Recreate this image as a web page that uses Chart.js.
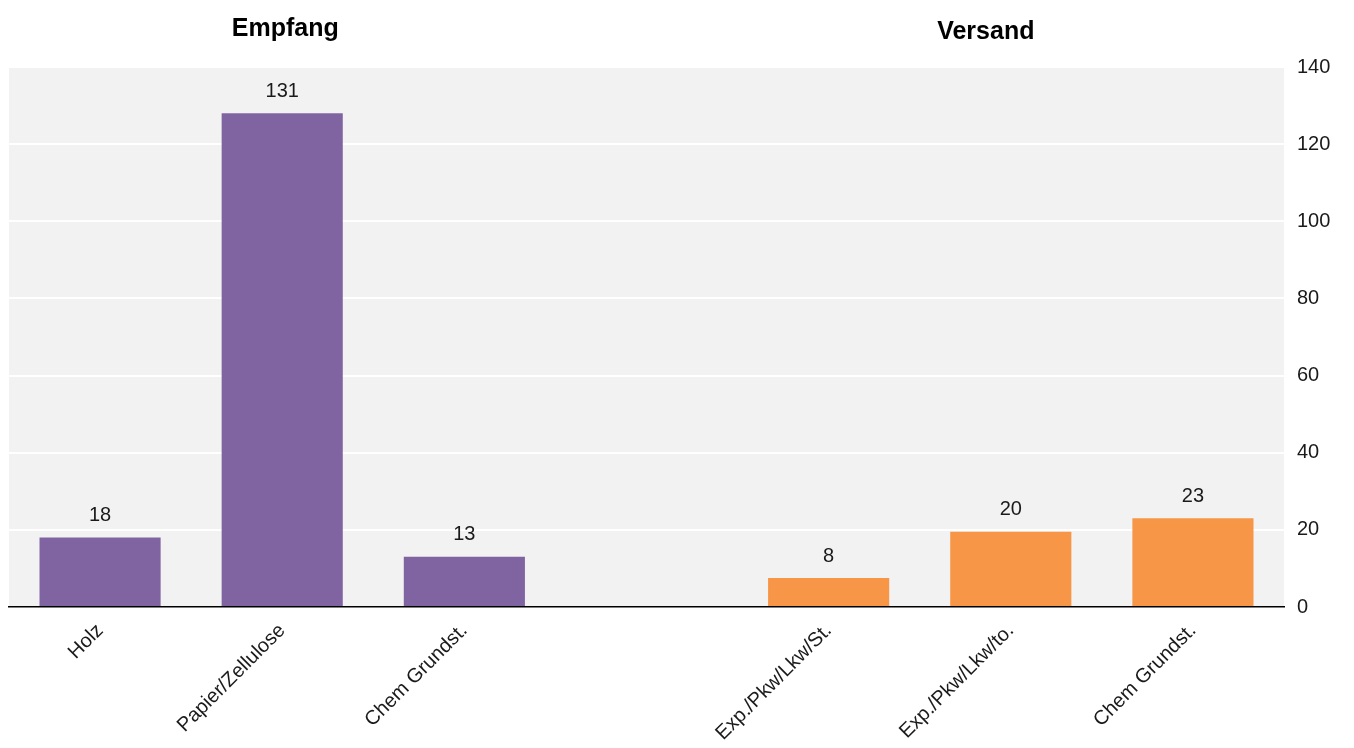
<!DOCTYPE html>
<html>
<head>
<meta charset="utf-8">
<script src="https://cdn.jsdelivr.net/npm/chart.js@4/dist/chart.umd.min.js"></script>
<style>
  html, body { margin: 0; padding: 0; background: #ffffff; }
  #wrap { width: 1354px; height: 748px; }
</style>
</head>
<body>
<div id="wrap"><canvas id="grafica"></canvas></div>
<script>
// Datos del gráfico (Empfang | hueco | Versand)
var categorias = ['Holz', 'Papier/Zellulose', 'Chem Grundst.', '', 'Exp./Pkw/Lkw/St.', 'Exp./Pkw/Lkw/to.', 'Chem Grundst.'];
var valores = [18, 128, 13, null, 7.5, 19.5, 23];
var etiquetasValor = ['18', '131', '13', '', '8', '20', '23'];
var colores = ['#8064a2', '#8064a2', '#8064a2', '#8064a2', '#f79646', '#f79646', '#f79646'];
var ticksY = [0, 20, 40, 60, 80, 100, 120, 140];
var titulos = ['Empfang', 'Versand'];

var fuente = '"Liberation Sans", Arial, sans-serif';

// fondo gris del área del gráfico
var fondoArea = {
    id: 'fondoArea',
    beforeDraw: function (chart) {
        var a = chart.chartArea, ctx = chart.ctx;
        ctx.save();
        ctx.fillStyle = '#f2f2f2';
        ctx.fillRect(a.left, a.top, a.right - a.left, a.bottom - a.top);
        ctx.restore();
    }
};

// etiquetas encima de las barras y títulos de grupo
var textos = {
    id: 'textos',
    afterDatasetsDraw: function (chart) {
        var ctx = chart.ctx;
        var meta = chart.getDatasetMeta(0);
        ctx.save();
        ctx.fillStyle = '#1a1a1a';
        ctx.font = '20px ' + fuente;
        ctx.textAlign = 'center';
        ctx.textBaseline = 'bottom';
        meta.data.forEach(function (bar, i) {
            if (valores[i] === null) return;
            ctx.fillText(etiquetasValor[i], bar.x, bar.y - 12);
        });
        // títulos centrados sobre cada grupo
        var x = chart.scales.x;
        ctx.fillStyle = '#000000';
        ctx.font = 'bold 25px ' + fuente;
        ctx.textBaseline = 'middle';
        ctx.fillText(titulos[0], x.getPixelForValue(1) + 3, 29);
        ctx.fillText(titulos[1], (x.getPixelForValue(4) + x.getPixelForValue(6)) / 2 - 25, 32);
        ctx.restore();
    }
};

function graficaBarras(id) {
    var ctx = document.getElementById(id).getContext('2d');
    return new Chart(ctx, {
        type: 'bar',
        data: {
            labels: categorias,
            datasets: [{
                data: valores,
                backgroundColor: colores,
                barPercentage: 0.665,
                categoryPercentage: 1
            }]
        },
        options: {
            responsive: true,
            maintainAspectRatio: false,
            animation: false,
            layout: { padding: { top: 67, left: 9, right: 0, bottom: 0 } },
            plugins: { legend: { display: false }, tooltip: { enabled: false } },
            scales: {
                x: {
                    grid: { display: false },
                    border: { display: true, color: '#000000', width: 1.5 },
                    ticks: {
                        color: '#1a1a1a',
                        font: { family: fuente, size: 20 },
                        minRotation: 45,
                        maxRotation: 45,
                        autoSkip: false,
                        padding: 4
                    },
                    afterFit: function (s) { s.height = 141; }
                },
                y: {
                    position: 'right',
                    min: 0,
                    max: 140,
                    afterBuildTicks: function (s) {
                        s.ticks = ticksY.map(function (v) { return { value: v }; });
                    },
                    grid: {
                        color: function (c) { return c.tick && c.tick.value === 0 ? 'rgba(0,0,0,0)' : '#ffffff'; },
                        lineWidth: 2,
                        drawTicks: false
                    },
                    border: { display: false },
                    ticks: {
                        color: '#1a1a1a',
                        font: { family: fuente, size: 20 },
                        padding: 13
                    },
                    afterFit: function (s) { s.width = 70; }
                }
            }
        },
        plugins: [fondoArea, textos]
    });
}

graficaBarras('grafica');
</script>
</body>
</html>
